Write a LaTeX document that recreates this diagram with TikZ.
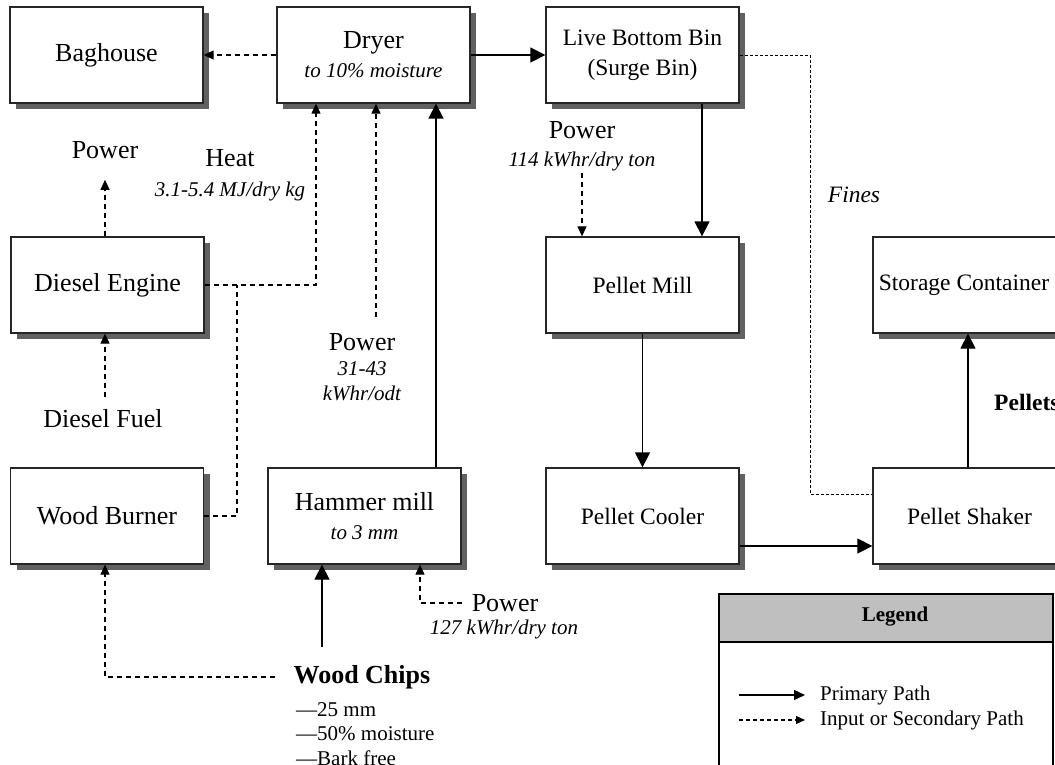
\documentclass[tikz,border=0pt]{standalone}
\usepackage{fontspec}
\setmainfont{Liberation Serif}
\usetikzlibrary{arrows.meta, shadows}
\tikzstyle{arrow} = [line width=1.3pt,-{Triangle[length=15pt,width=15pt]}]
\tikzstyle{dasharrow} = [line width=1.2pt,dash pattern=on 5pt off 4pt,-{Triangle[length=10pt,width=9pt]}]
\tikzstyle{dashline} = [line width=1.2pt,dash pattern=on 5pt off 4pt]
\tikzstyle{fineline} = [line width=0.9pt,dash pattern=on 3pt off 2pt]
\newcommand{\bigtxt}{\fontsize{26}{30}\selectfont}
\newcommand{\midtxt}{\fontsize{23.5}{28}\selectfont}
\newcommand{\smalltxt}{\fontsize{21}{25}\selectfont}

\begin{document}
\begin{tikzpicture}
        [
            x=1pt, y=-1pt,
            box/.style={rectangle, draw=black!85, line width=1.3pt, fill=white,
              minimum width=193pt, minimum height=96pt, align=center, inner sep=0pt,
              font=\bigtxt,
              drop shadow={shadow xshift=6pt, shadow yshift=-6pt, opacity=1, fill=black!62}},
            tag/.style={align=center, inner sep=1pt, font=\smalltxt},
        ]
    \useasboundingbox (0,0) rectangle (1055,765);
    \clip (0,0) rectangle (1055,765);

    % process boxes
    \node[box] (bag) at (106.5,55) {Baghouse};
    \node[box] (dryer) at (373.5,55) {Dryer\\[-1pt]{\smalltxt\itshape to 10\% moisture}};
    \node[box, font=\midtxt] (lbb) at (642.5,55) {Live Bottom Bin\\[2pt](Surge Bin)};
    \node[box] (diesel) at (107.5,285) {Diesel Engine};
    \node[box, font=\midtxt] (pmill) at (642.5,285) {Pellet Mill};
    \node[box, font=\midtxt] (store) at (969.5,285) {Storage Container\hspace*{11pt}};
    \node[box] (burner) at (107,516) {Wood Burner};
    \node[box] (hammer) at (364.5,516) {Hammer mill\\[-1pt]{\smalltxt\itshape to 3 mm}};
    \node[box, font=\midtxt] (cooler) at (642.5,516) {Pellet Cooler};
    \node[box, font=\midtxt] (shaker) at (969.5,516) {Pellet Shaker};

    % inputs and labels
    \node[tag] (pw1) at (105,150) {\bigtxt Power};
    \node[tag] (heat) at (230,175) {{\bigtxt Heat}\\[5pt]\itshape 3.1-5.4 MJ/dry kg};
    \node[tag] (fuel) at (103,419) {\bigtxt Diesel Fuel};
    \node[tag] (pw2) at (362,367) {{\bigtxt Power}\\\itshape 31-43\\\itshape kWhr/odt};
    \node[tag] (pw4) at (582,146) {{\bigtxt Power}\\[3pt]\itshape 114 kWhr/dry ton};
    \node[tag] (fines) at (854,195) {\midtxt\itshape Fines};
    \node[tag, anchor=west] (pellets) at (993,402) {\midtxt\bfseries Pellets};
    \node[tag] (pw3) at (505,603) {\bigtxt Power};
    \node[tag] (pw3v) at (504,629) {\itshape 127 kWhr/dry ton};
    \node[tag] (chips) at (362,677) {\bigtxt\bfseries Wood Chips};
    \foreach \t [count=\i] in {25 mm, 50\% moisture, Bark free}
        \node[tag, anchor=west] (spec\i) at (295,686+24*\i) {---\t};

    \coordinate (jn) at (237,285);
    \coordinate (p2) at (376,317);
    \coordinate (p4) at (582,173);
    \coordinate (fn) at (810,55);

    % primary path
    \draw[arrow] (dryer.east) -- (lbb.west);
    \draw[arrow] ([xshift=59.5pt]lbb.south) -- ([xshift=59.5pt]pmill.north);
    \draw[arrow] (pmill.south) -- (cooler.north);
    \draw[arrow] ([yshift=-30pt]cooler.east) -- ([yshift=-30pt]shaker.west);
    \draw[arrow] ([xshift=-1.5pt]shaker.north) -- ([xshift=-1.5pt]store.south);
    \draw[arrow] ([xshift=71.5pt]hammer.north) -- ([xshift=62.5pt]dryer.south);
    \draw[arrow, shorten <=17pt] ([xshift=-40pt]chips.north) -- ([xshift=-40pt]chips.north |- hammer.south);

    % secondary paths
    \draw[dasharrow] (dryer.west) -- (bag.east);
    \draw[dasharrow] (p2) -- (p2 |- dryer.south);
    \draw[dasharrow] (diesel.east) -| ([xshift=-57.5pt]dryer.south);
    \draw[dashline] (burner.east) -| (jn);
    \draw[dasharrow, shorten >=20pt] ([xshift=-2.5pt]diesel.north) -- ([xshift=-2.5pt]diesel.north |- pw1.south);
    \draw[dasharrow, shorten <=12pt] ([xshift=2pt]fuel.north) -- ([xshift=2pt]fuel.north |- diesel.south);
    \draw[dasharrow] (p4) -- (p4 |- pmill.north);
    \draw[dasharrow] ([xshift=-18pt]chips.west) -| ([xshift=-2pt]burner.south);
    \draw[dasharrow] ([xshift=-9pt]pw3.west) -| ([xshift=55.5pt]hammer.south);
    \draw[fineline] (lbb.east) -- (fn) |- ([yshift=22pt]shaker.west);

    % legend
    \draw[line width=1.3pt, fill=black!25] (719,594) rectangle (1053,642);
    \draw[line width=1.3pt] (719,642) rectangle (1053,800);
    \node[tag, font=\smalltxt\bfseries] (leg) at (895,617) {Legend};
    \node[tag, anchor=west] (lp) at (819,695) {Primary Path};
    \node[tag, anchor=west] (ls) at (819,720) {Input or Secondary Path};
    \coordinate (lp0) at (739,695);
    \coordinate (ls0) at (739,720);
    \draw[line width=1.3pt, -{Triangle[length=11pt,width=10pt]}] (lp0) -- ([xshift=-14pt]lp.west);
    \draw[line width=1.1pt, dash pattern=on 4pt off 3pt, -{Triangle[length=9pt,width=8pt]}] (ls0) -- ([xshift=-14pt]ls.west);
\end{tikzpicture}
\end{document}
